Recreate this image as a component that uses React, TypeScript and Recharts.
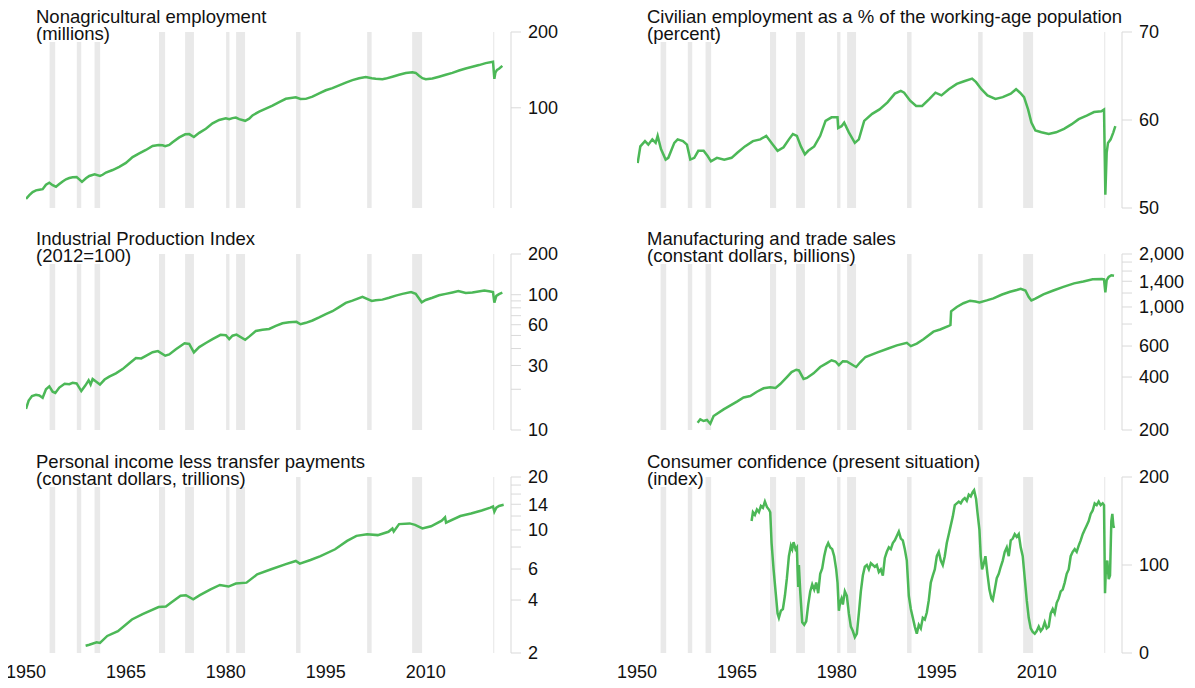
import React from 'react';
import { LineChart, Line, XAxis, YAxis, ReferenceArea } from 'recharts';

const yearTicks = [1950, 1965, 1980, 1995, 2010];
const recessionStarts = [1953.54, 1957.63, 1960.29, 1969.96, 1973.88, 1980.04, 1981.54, 1990.54, 2001.21, 2007.96, 2020.12];
const recessionEnds = [1954.38, 1958.29, 1961.13, 1970.88, 1975.21, 1980.54, 1982.88, 1991.21, 2001.88, 2009.46, 2020.29];

// Nonagricultural employment (millions)
const payrollYears = [1950, 1950.5, 1951, 1951.5, 1952, 1952.5, 1953, 1953.5, 1954, 1954.5, 1955, 1955.5, 1956, 1956.5, 1957, 1957.6, 1958, 1958.4, 1959, 1959.5, 1960.3, 1961.1, 1961.5, 1962, 1963, 1964, 1965, 1966, 1967, 1968, 1969, 1969.9, 1970.5, 1970.9, 1971.5, 1972, 1973, 1973.9, 1974.5, 1975.2, 1976, 1977, 1978, 1979, 1980, 1980.5, 1981, 1981.5, 1982, 1982.9, 1983.5, 1984, 1985, 1986, 1987, 1988, 1989, 1990.5, 1991.2, 1992, 1993, 1994, 1995, 1996, 1997, 1998, 1999, 2000, 2001, 2001.9, 2002.5, 2003.5, 2004, 2005, 2006, 2007, 2008, 2008.5, 2009, 2009.5, 2010, 2011, 2012, 2013, 2014, 2015, 2016, 2017, 2018, 2019, 2020.1, 2020.3, 2020.45, 2020.7, 2021, 2021.5];
const payrollValues = [43.5, 45, 46.3, 47, 47.3, 47.5, 49.5, 50.4, 49.3, 48.6, 49.8, 51, 52, 52.6, 53, 53.1, 52, 50.8, 52.5, 53.6, 54.4, 53.6, 54.2, 55.3, 56.6, 58.3, 60.4, 63.7, 65.9, 68, 70.5, 71.2, 71, 70.4, 71.2, 73, 76.3, 78.5, 78.6, 76.5, 79.5, 82.5, 86.7, 89.5, 90.9, 90.1, 91, 91.5, 90.2, 88.8, 90.5, 93.3, 96.6, 99.3, 102, 105.4, 108.6, 110.1, 108.4, 108.5, 110.8, 114, 117.4, 119.7, 122.8, 125.9, 128.8, 131, 132.5, 131, 130.4, 129.9, 130.6, 132.9, 135.3, 137.5, 138.3, 137.6, 134, 131.1, 129.8, 130.7, 132.9, 135.2, 137.6, 140.6, 143.3, 145.6, 147.8, 150.5, 152.4, 130.3, 137.8, 141.5, 142.9, 146.7];

// Civilian employment as a % of the working-age population
const emratioYears = [1950.1, 1950.5, 1951.2, 1951.7, 1952.3, 1952.8, 1953.1, 1953.6, 1954.3, 1954.7, 1955.6, 1956.1, 1956.9, 1957.5, 1958, 1958.6, 1959.2, 1960, 1960.6, 1961.1, 1962, 1963.1, 1964.2, 1965.1, 1966.2, 1967.4, 1968.5, 1969.4, 1970.2, 1971.1, 1972, 1972.8, 1973.4, 1974, 1974.6, 1975.2, 1975.7, 1976.6, 1977.5, 1978.3, 1979.2, 1980.1, 1980.2, 1980.7, 1981.1, 1981.8, 1982.7, 1983.3, 1984.1, 1985.3, 1986.4, 1987.6, 1988.7, 1989.6, 1990.1, 1991, 1991.9, 1992.8, 1993.9, 1994.8, 1995.7, 1996.8, 1998, 1999.1, 2000.3, 2000.9, 2001.7, 2002.6, 2003.8, 2004.9, 2006.1, 2006.9, 2007.5, 2008.1, 2008.7, 2009.2, 2009.8, 2010.7, 2011.8, 2012.9, 2014.1, 2015.2, 2016.3, 2017.5, 2018.6, 2019.7, 2020.1, 2020.3, 2020.5, 2020.7, 2021.1, 2021.5, 2021.8];
const emratioValues = [55.1, 57, 57.6, 57.2, 57.8, 57.4, 58.2, 56.7, 55.5, 55.7, 57.4, 57.8, 57.6, 57.2, 55.5, 55.7, 56.5, 56.5, 55.9, 55.3, 55.7, 55.5, 55.7, 56.3, 57, 57.6, 57.8, 58.2, 57.4, 56.5, 56.9, 57.8, 58.4, 58.2, 57, 56.1, 56.5, 57, 58.2, 59.9, 60.3, 60.3, 59.1, 59.3, 59.7, 58.6, 57.4, 57.8, 59.9, 60.7, 61.2, 62, 63, 63.3, 63.1, 62.2, 61.6, 61.6, 62.4, 63.1, 62.8, 63.5, 64.1, 64.4, 64.7, 64.3, 63.5, 62.8, 62.4, 62.6, 63, 63.5, 63.1, 62.6, 61.2, 59.7, 58.8, 58.6, 58.4, 58.6, 59, 59.5, 60.1, 60.5, 60.9, 61, 61.2, 51.5, 56.3, 57.4, 57.8, 58.6, 59.3];

// Industrial Production Index (2012=100)
const ipYears = [1950, 1950.4, 1950.9, 1951.5, 1952, 1952.5, 1953, 1953.5, 1954, 1954.4, 1955, 1955.8, 1956.5, 1957, 1957.6, 1958.3, 1958.9, 1959.4, 1959.7, 1960, 1960.5, 1961.1, 1961.8, 1962.5, 1963.5, 1964.5, 1965.5, 1966.5, 1967.3, 1968, 1969, 1969.8, 1970.9, 1971.5, 1972.5, 1973.8, 1974.5, 1975.2, 1976, 1977, 1978, 1979.2, 1980, 1980.5, 1981, 1981.6, 1982.9, 1983.5, 1984.5, 1985.5, 1986.5, 1987.5, 1988.5, 1989.5, 1990.6, 1991.2, 1992, 1993, 1994, 1995, 1996, 1997, 1998, 1999, 2000.5, 2001.9, 2002.5, 2003.5, 2004.5, 2005.5, 2006.5, 2007.8, 2008.5, 2009.4, 2010, 2011, 2012, 2013, 2014, 2014.9, 2016, 2017, 2018.8, 2019.5, 2020.1, 2020.3, 2020.6, 2021, 2021.5];
const ipValues = [14.3, 16.5, 17.8, 18.2, 18, 17.3, 20, 21, 19.2, 18.8, 20.6, 22, 21.8, 22.3, 22.1, 19.4, 21.3, 23.3, 21.7, 23.8, 22.8, 21.7, 23.6, 24.8, 26.2, 28.2, 31, 34, 33.8, 35.3, 37.6, 38.3, 35.4, 36.2, 39.5, 43.8, 43.3, 37.5, 41, 44, 47, 50.5, 50.2, 47, 49.8, 50.7, 46.5, 49, 54, 55, 55.8, 58.8, 61.5, 62.5, 63, 60.5, 62, 64.5, 68, 72, 75.5, 81, 87, 90.5, 96.5, 90, 91, 92, 95, 98.5, 101.5, 104.5, 101.5, 88, 91.5, 95, 99, 101.5, 104, 106.5, 103, 104, 107.5, 106, 104.5, 87.5, 98, 101, 103.5];

// Manufacturing and trade sales (constant dollars, billions)
const salesYears = [1959.1, 1959.5, 1960, 1960.5, 1961, 1961.5, 1963, 1965, 1966, 1967, 1968, 1969, 1970, 1970.8, 1971.5, 1972.5, 1973.2, 1973.9, 1974.3, 1975, 1975.5, 1976.5, 1977.5, 1978.5, 1979.2, 1979.8, 1980.3, 1980.9, 1981.5, 1982.5, 1982.9, 1983.5, 1984.3, 1986, 1987.7, 1989, 1990.5, 1991.1, 1992, 1993, 1994.5, 1995.5, 1996.8, 1997.05, 1997.15, 1998, 1999, 2000, 2000.8, 2001.4, 2002.5, 2003.5, 2004.8, 2006, 2007, 2007.6, 2008.3, 2008.8, 2009.2, 2009.8, 2011, 2012.5, 2014, 2015.6, 2017, 2018.4, 2019.8, 2020.1, 2020.3, 2020.5, 2020.8, 2021.2, 2021.6];
const salesValues = [220, 230, 225, 228, 217, 240, 262, 290, 306, 312, 330, 345, 350, 347, 365, 400, 427, 440, 436, 390, 395, 420, 456, 480, 498, 490, 467, 492, 490, 465, 456, 485, 520, 550, 581, 605, 626, 599, 620, 655, 724, 745, 781, 790, 945, 1000, 1050, 1086, 1075, 1062, 1090, 1120, 1177, 1220, 1250, 1270, 1240, 1140, 1089, 1115, 1180, 1240, 1300, 1362, 1395, 1438, 1440, 1435, 1209, 1420, 1480, 1515, 1505];

// Personal income less transfer payments (constant dollars, trillions)
const incomeYears = [1958.95, 1959.5, 1960.6, 1961.1, 1962.2, 1963.8, 1965.9, 1967.5, 1969.9, 1971, 1971.8, 1973.2, 1974, 1975.1, 1976.1, 1977.7, 1979.1, 1980.4, 1981.5, 1983.1, 1984.7, 1986.8, 1988.9, 1990.5, 1991.1, 1992.7, 1994.2, 1996.4, 1998.2, 1999.6, 2001.2, 2002.8, 2004.4, 2005, 2005.2, 2006, 2007.6, 2008.4, 2009.5, 2010.8, 2012.4, 2012.9, 2013.05, 2015.2, 2016.8, 2018.4, 2019.7, 2020.1, 2020.3, 2020.6, 2021, 2021.7];
const incomeValues = [2.2, 2.23, 2.3, 2.28, 2.5, 2.66, 3.1, 3.33, 3.65, 3.67, 3.87, 4.23, 4.26, 4.04, 4.26, 4.6, 4.87, 4.77, 4.96, 5.02, 5.6, 5.98, 6.38, 6.67, 6.44, 6.75, 7.11, 7.77, 8.67, 9.26, 9.47, 9.35, 9.77, 10.2, 9.8, 10.8, 10.9, 10.7, 10.2, 10.5, 11.3, 11.8, 11, 12, 12.4, 12.9, 13.4, 13.6, 12.7, 13.4, 13.7, 13.9];

// Consumer confidence (present situation) index
const confYears = [1967.2, 1967.4, 1967.7, 1968, 1968.3, 1968.6, 1968.9, 1969.2, 1969.5, 1969.8, 1970, 1970.2, 1970.5, 1970.8, 1971.1, 1971.3, 1971.6, 1971.9, 1972.2, 1972.5, 1972.8, 1973.1, 1973.3, 1973.5, 1973.8, 1974, 1974.1, 1974.2, 1974.3, 1974.5, 1974.8, 1975.1, 1975.4, 1975.7, 1976, 1976.3, 1976.6, 1976.9, 1977.2, 1977.5, 1977.8, 1978.1, 1978.4, 1978.7, 1979, 1979.3, 1979.6, 1979.9, 1980.1, 1980.3, 1980.5, 1980.7, 1980.9, 1981.2, 1981.5, 1981.8, 1982.1, 1982.4, 1982.7, 1983, 1983.3, 1983.6, 1983.9, 1984.2, 1984.5, 1984.8, 1985.1, 1985.4, 1985.7, 1986, 1986.3, 1986.6, 1986.9, 1987.2, 1987.5, 1987.8, 1988.1, 1988.4, 1988.7, 1989, 1989.3, 1989.6, 1989.9, 1990.2, 1990.5, 1990.8, 1991.1, 1991.4, 1991.7, 1992, 1992.3, 1992.6, 1992.9, 1993.2, 1993.5, 1993.8, 1994.1, 1994.4, 1994.7, 1995, 1995.3, 1995.6, 1995.9, 1996.2, 1996.5, 1996.8, 1997.1, 1997.4, 1997.7, 1998, 1998.3, 1998.6, 1998.9, 1999.2, 1999.5, 1999.8, 2000.1, 2000.4, 2000.6, 2000.9, 2001.1, 2001.4, 2001.6, 2001.8, 2002, 2002.3, 2002.6, 2002.9, 2003.2, 2003.4, 2003.7, 2004, 2004.3, 2004.6, 2004.9, 2005.2, 2005.5, 2005.8, 2006.1, 2006.4, 2006.7, 2007, 2007.3, 2007.6, 2007.9, 2008.2, 2008.5, 2008.8, 2009.1, 2009.4, 2009.7, 2010, 2010.3, 2010.6, 2010.9, 2011.2, 2011.5, 2011.8, 2012.1, 2012.4, 2012.7, 2013, 2013.3, 2013.6, 2013.9, 2014.2, 2014.5, 2014.8, 2015.1, 2015.4, 2015.7, 2016, 2016.3, 2016.6, 2016.9, 2017.2, 2017.5, 2017.8, 2018.1, 2018.4, 2018.7, 2019, 2019.3, 2019.6, 2019.9, 2020.1, 2020.25, 2020.4, 2020.6, 2020.8, 2021, 2021.2, 2021.35, 2021.5, 2021.6];
const confValues = [150, 160, 157, 163, 160, 167, 165, 172, 166, 163, 160, 125, 95, 70, 45, 40, 48, 50, 65, 85, 110, 122, 118, 126, 118, 120, 95, 75, 100, 70, 35, 32, 36, 55, 70, 78, 72, 80, 68, 90, 96, 110, 120, 125, 120, 118, 110, 95, 80, 48, 58, 62, 55, 70, 65, 45, 30, 25, 18, 22, 45, 70, 88, 98, 100, 95, 102, 100, 98, 100, 92, 95, 88, 108, 115, 120, 118, 125, 128, 133, 138, 130, 128, 118, 105, 65, 50, 40, 30, 22, 32, 28, 40, 38, 46, 60, 80, 88, 95, 110, 115, 105, 100, 110, 125, 135, 145, 155, 168, 170, 172, 170, 174, 176, 173, 180, 178, 183, 185, 175, 160, 140, 110, 95, 100, 110, 90, 72, 62, 60, 72, 85, 90, 98, 105, 115, 120, 110, 128, 130, 135, 132, 135, 120, 110, 85, 60, 40, 28, 24, 22, 25, 30, 25, 28, 35, 28, 30, 45, 50, 45, 57, 62, 70, 72, 80, 90, 95, 110, 115, 118, 115, 122, 128, 135, 140, 145, 150, 158, 162, 170, 168, 172, 168, 170, 168, 68, 100, 105, 84, 88, 150, 158, 145, 142];

const GREEN = '#4cb857';
const AXIS = '#d9d9d9';
const BAND = '#e9e9e9';
const FONT = '"Liberation Sans", Arial, Helvetica, sans-serif';

const CHART_W = 576;
const PLOT_H = 176;
const PAD = 14;
const LEFT_PAD = 26;

type PanelProps = {
  title: string;
  sub: string;
  left: number;
  top: number;
  years: number[];
  values: number[];
  domain: [number, number];
  ticks: number[];
  labels: number[];
  log?: boolean;
  showYears?: boolean;
};

const Panel: React.FC<PanelProps> = ({ title, sub, left, top, years, values, domain, ticks, labels, log, showYears }) => {
  const data = years.map((x, i) => ({ x, v: values[i] }));
  const h = PAD + PLOT_H + (showYears ? 34 : PAD);
  return (
    <div style={{ position: 'absolute', left: left - 8, top: top - PAD, width: CHART_W, height: h }}>
      <LineChart width={CHART_W} height={h} data={data} margin={{ top: PAD, right: 5, left: LEFT_PAD, bottom: showYears ? 0 : PAD }}>
        <XAxis
          dataKey="x"
          type="number"
          domain={[1950, 2022.8]}
          allowDataOverflow
          ticks={yearTicks}
          interval={0}
          hide={!showYears}
          height={34}
          tickSize={0}
          tickMargin={12}
          axisLine={false}
          tickLine={false}
          tick={{ fontSize: 18, fill: '#111', fontFamily: FONT }}
        />
        <YAxis
          orientation="right"
          type="number"
          width={60}
          scale={log ? 'log' : 'linear'}
          domain={domain}
          allowDataOverflow
          ticks={ticks}
          interval={0}
          tickFormatter={(v: number) => (labels.includes(v) ? v.toLocaleString('en-US') : '')}
          axisLine={{ stroke: AXIS }}
          tickLine={{ stroke: AXIS }}
          tickSize={10}
          tickMargin={7}
          tick={{ fontSize: 18, fill: '#111', fontFamily: FONT }}
        />
        {recessionStarts.map((s, i) => (
          <ReferenceArea key={i} x1={s} x2={recessionEnds[i]} fill={BAND} fillOpacity={1} stroke="none" ifOverflow="hidden" />
        ))}
        <Line type="linear" dataKey="v" stroke={GREEN} strokeWidth={2.5} dot={false} isAnimationActive={false} />
      </LineChart>
      <div style={{ position: 'absolute', left: 36, top: PAD - 24, fontFamily: FONT, fontSize: 18.5, lineHeight: '17px', color: '#111' }}>
        <div style={{ background: '#fff', width: 'fit-content', whiteSpace: 'nowrap' }}>{title}</div>
        <div style={{ background: '#fff', width: 'fit-content', whiteSpace: 'nowrap' }}>{sub}</div>
      </div>
    </div>
  );
};

const ROW_TOPS = [24, 246, 469];
const COL_LEFTS = [0, 611];

export default function App() {
  return (
    <div style={{ position: 'relative', width: 1179, height: 672, background: '#fff', fontFamily: FONT }}>
      <Panel title="Nonagricultural employment" sub="(millions)" left={COL_LEFTS[0]} top={ROW_TOPS[0]}
        years={payrollYears} values={payrollValues} domain={[40, 200]} ticks={[100, 200]} labels={[100, 200]} log />
      <Panel title="Civilian employment as a % of the working-age population" sub="(percent)" left={COL_LEFTS[1]} top={ROW_TOPS[0]}
        years={emratioYears} values={emratioValues} domain={[50, 70]} ticks={[50, 60, 70]} labels={[50, 60, 70]} />
      <Panel title="Industrial Production Index" sub="(2012=100)" left={COL_LEFTS[0]} top={ROW_TOPS[1]}
        years={ipYears} values={ipValues} domain={[10, 200]} ticks={[10, 20, 30, 40, 50, 60, 70, 80, 90, 100, 200]} labels={[10, 30, 60, 100, 200]} log />
      <Panel title="Manufacturing and trade sales" sub="(constant dollars, billions)" left={COL_LEFTS[1]} top={ROW_TOPS[1]}
        years={salesYears} values={salesValues} domain={[200, 2000]} ticks={[200, 400, 600, 800, 1000, 1200, 1400, 1600, 1800, 2000]} labels={[200, 400, 600, 1000, 1400, 2000]} log />
      <Panel title="Personal income less transfer payments" sub="(constant dollars, trillions)" left={COL_LEFTS[0]} top={ROW_TOPS[2]}
        years={incomeYears} values={incomeValues} domain={[2, 20]} ticks={[2, 4, 6, 8, 10, 12, 14, 16, 18, 20]} labels={[2, 4, 6, 10, 14, 20]} log showYears />
      <Panel title="Consumer confidence (present situation)" sub="(index)" left={COL_LEFTS[1]} top={ROW_TOPS[2]}
        years={confYears} values={confValues} domain={[0, 200]} ticks={[0, 100, 200]} labels={[0, 100, 200]} showYears />
    </div>
  );
}
